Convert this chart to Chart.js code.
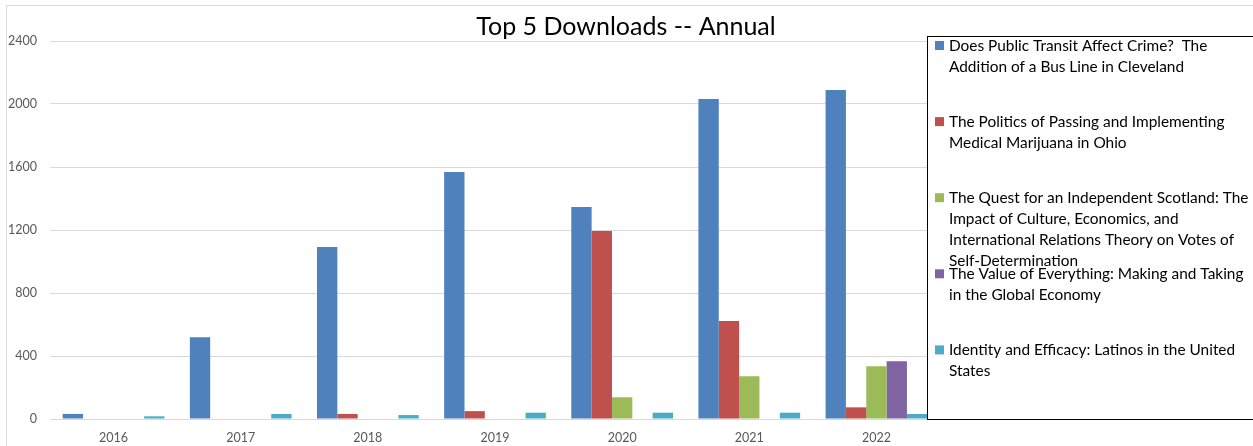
<!DOCTYPE html>
<html>
<head>
<meta charset="utf-8">
<title>Top 5 Downloads -- Annual</title>
<script src="https://cdn.jsdelivr.net/npm/chart.js@4.4.1/dist/chart.umd.min.js"></script>
<style>
  html, body { margin: 0; padding: 0; background: #fff; }
  #wrap { position: relative; width: 1253px; height: 446px; }
</style>
</head>
<body>
<div id="wrap"><canvas id="chart" width="1253" height="446"></canvas></div>
<script>
// Dados
var chartTitle = 'Top 5 Downloads -- Annual';
var years = ['2016', '2017', '2018', '2019', '2020', '2021', '2022'];

var seriesNames = [
    'Does Public Transit Affect Crime?  The\nAddition of a Bus Line in Cleveland',
    'The Politics of Passing and Implementing\nMedical Marijuana in Ohio',
    'The Quest for an Independent Scotland: The\nImpact of Culture, Economics, and\nInternational Relations Theory on Votes of\nSelf-Determination',
    'The Value of Everything: Making and Taking\nin the Global Economy',
    'Identity and Efficacy: Latinos in the United\nStates'
];

var transitCrime    = [32, 519, 1092, 1568, 1346, 2032, 2089];
var medMarijuana    = [0, 0, 32, 50, 1194, 622, 74];
var scotland        = [0, 0, 0, 0, 138, 271, 335];
var valueEverything = [0, 0, 0, 0, 0, 0, 366];
var latinos         = [17, 32, 25, 40, 40, 40, 32];

var yTicks = [0, 400, 800, 1200, 1600, 2000, 2400];

var colors = ['#4F81BD', '#C0504D', '#9BBB59', '#8064A2', '#4BACC6'];
var allSeries = [transitCrime, medMarijuana, scotland, valueEverything, latinos];

var datasets = allSeries.map(function (values, i) {
    return {
        label: seriesNames[i],
        data: values,
        backgroundColor: colors[i],
        borderWidth: 0,
        categoryPercentage: 0.8,
        barPercentage: 1.0
    };
});

// Borda externa e titulo (centralizado na largura toda, nao so na area do grafico)
var chartFrame = {
    id: 'chartFrame',
    beforeDraw: function (chart) {
        var ctx = chart.ctx;
        ctx.save();
        ctx.strokeStyle = '#D9D9D9';
        ctx.lineWidth = 1;
        ctx.beginPath();
        ctx.moveTo(6.5, chart.height + 5);
        ctx.lineTo(6.5, 5.5);
        ctx.lineTo(chart.width + 5, 5.5);
        ctx.stroke();

        ctx.fillStyle = '#000';
        ctx.font = '25px Lato';
        ctx.textAlign = 'center';
        ctx.textBaseline = 'alphabetic';
        ctx.fillText(chartTitle, 626, 35);
        ctx.restore();
    }
};

// Legenda desenhada por cima da area do grafico (como no Excel)
var boxLegend = {
    id: 'boxLegend',
    afterDraw: function (chart) {
        var ctx = chart.ctx;
        var left = 927.5, top = 36.5, bottom = 419.5;
        ctx.save();
        ctx.fillStyle = '#fff';
        ctx.fillRect(left, top, chart.width - left + 5, bottom - top);
        ctx.strokeStyle = '#000';
        ctx.lineWidth = 1;
        ctx.strokeRect(left, top, chart.width - left + 5, bottom - top);

        ctx.font = '15.4px Lato';
        ctx.textBaseline = 'middle';
        ctx.textAlign = 'left';
        chart.data.datasets.forEach(function (ds, i) {
            var y0 = 46 + i * 76.1;
            ctx.fillStyle = ds.backgroundColor;
            ctx.fillRect(935, y0 - 5, 9, 9);
            ctx.fillStyle = '#000';
            ds.label.split('\n').forEach(function (line, j) {
                ctx.fillText(line, 949, y0 + j * 20.8);
            });
        });
        ctx.restore();
    }
};

var ctx = document.getElementById('chart').getContext('2d');
var chart = new Chart(ctx, {
    type: 'bar',
    data: {
        labels: years,
        datasets: datasets
    },
    options: {
        responsive: false,
        animation: false,
        layout: {
            padding: { left: 0, right: 313, top: 41, bottom: 0 }
        },
        plugins: {
            legend: { display: false },
            tooltip: { enabled: false },
            title: { display: false }
        },
        scales: {
            x: {
                grid: { display: false, drawTicks: false },
                border: { display: false },
                ticks: {
                    color: '#595959',
                    font: { family: 'Lato', size: 12.5 },
                    padding: 11,
                    maxRotation: 0
                },
                afterFit: function (scale) { scale.height = 27; }
            },
            y: {
                min: 0,
                max: 2400,
                afterBuildTicks: function (scale) {
                    scale.ticks = yTicks.map(function (v) { return { value: v }; });
                },
                grid: { color: '#D9D9D9', drawTicks: false, lineWidth: 1 },
                border: { display: false },
                ticks: {
                    color: '#595959',
                    font: { family: 'Lato', size: 12.5 },
                    padding: 13,
                    callback: function (value) { return String(value); }
                },
                afterFit: function (scale) { scale.width = 50; }
            }
        }
    },
    plugins: [chartFrame, boxLegend]
});
</script>
</body>
</html>
